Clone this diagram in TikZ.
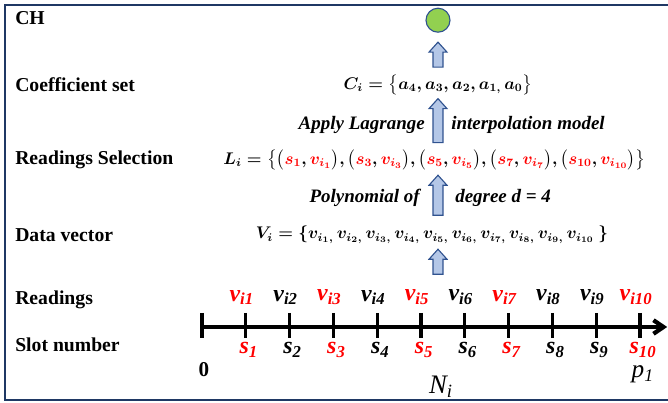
\documentclass[tikz,border=0pt]{standalone}
\usepackage{fontspec}
\setmainfont{Liberation Serif}
\usepackage{xcolor}
\usepackage{tikz}
\usepackage{amsmath, amssymb}
\usetikzlibrary{shapes.arrows, arrows.meta}

\begin{document}
\begin{tikzpicture}[every node/.style={inner sep=0pt, font=\fontsize{14}{16}\selectfont},
    rowlabel/.style={anchor=west, font=\fontsize{14}{16}\selectfont\bfseries},
    formula/.style={font=\fontsize{12}{14}\selectfont\boldmath},
    caption/.style={font=\fontsize{13.5}{16}\selectfont\bfseries\itshape},
    uparrow/.style={single arrow, draw=bordeA, fill=rellenoA, line width=0.8pt, rotate=90,
        inner sep=0.11cm, single arrow head extend=0.1cm, single arrow tip angle=84},
    axislabel/.style={font=\fontsize{17}{18}\selectfont\bfseries\itshape},
    tick/.style={line width=2.4pt}]

    % Definimos colores
    \definecolor{marcoA}{RGB}{31,56,100}     % Azul marco
    \definecolor{bordeA}{RGB}{47,82,143}     % Azul borde flechas
    \definecolor{rellenoA}{RGB}{180,199,231} % Azul claro relleno
    \definecolor{verdeCH}{RGB}{146,208,80}   % Verde CH
    \definecolor{rojoS}{RGB}{255,0,0}        % Rojo seleccion

    \useasboundingbox (0,0) rectangle (16.7,10.075);

    % Marco
    \draw[marcoA, line width=1.5pt] (16.8,9.95) -- (0.12,9.95) -- (0.12,0.08) -- (16.8,0.08);

    % Etiquetas de filas
    \node[rowlabel] (lch) at (0.375,9.625) {CH};
    \node[rowlabel] (lcoef) at (0.375,7.95) {Coefficient set};
    \node[rowlabel] (lsel) at (0.375,6.075) {Readings Selection};
    \node[rowlabel] (ldat) at (0.375,4.2) {Data vector};
    \node[rowlabel] (lread) at (0.375,2.575) {Readings};
    \node[rowlabel] (lslot) at (0.375,1.45) {Slot number};

    % CH
    \node[circle, draw=bordeA, fill=verdeCH, line width=0.8pt, minimum size=0.6cm] (ch) at (10.95,9.57) {};

    % Flechas y formulas
    \node[uparrow, minimum height=0.625cm] (ar1) at (10.95,8.64) {};
    \node[formula] (coef) at (10.95,7.95) {$C_i = \big\{a_4, a_3, a_2, a_{1,}\, a_0\big\}$};

    \node[uparrow, minimum height=1.1cm] (ar2) at (10.95,6.99) {};
    \node[caption, anchor=east] (lag1) at (10.625,6.95) {Apply Lagrange};
    \node[caption, anchor=west] (lag2) at (11.275,6.95) {interpolation model};

    \node[formula] (lsel) at (10.86,6.075) {$L_i = \big\{\big(\textcolor{rojoS}{s_1}, \textcolor{rojoS}{v_{i_1}}\big), \big(\textcolor{rojoS}{s_3}, \textcolor{rojoS}{v_{i_3}}\big), \big(\textcolor{rojoS}{s_5}, \textcolor{rojoS}{v_{i_5}}\big), \big(\textcolor{rojoS}{s_7}, \textcolor{rojoS}{v_{i_7}}\big), \big(\textcolor{rojoS}{s_{10}}, \textcolor{rojoS}{v_{i_{10}}}\big)\big\}$};

    \node[uparrow, minimum height=1.0cm] (ar3) at (10.95,5.125) {};
    \node[caption, anchor=east] (pol1) at (10.5,5.125) {Polynomial of};
    \node[caption, anchor=west] (pol2) at (11.375,5.125) {degree d = 4};

    \node[formula] (vdat) at (10.8,4.2) {$V_i = \{v_{i_1,}\, v_{i_2,}\, v_{i_3,}\, v_{i_4,}\, v_{i_5,}\, v_{i_6,}\, v_{i_7,}\, v_{i_8,}\, v_{i_9,}\, v_{i_{10}}\ \}$};

    \node[uparrow, minimum height=0.625cm] (ar4) at (10.95,3.4625) {};

    % Eje de slots
    \coordinate (t0) at (5.05,1.9);
    \coordinate (t1) at (6.145,1.9);
    \coordinate (t2) at (7.24,1.9);
    \coordinate (t3) at (8.335,1.9);
    \coordinate (t4) at (9.43,1.9);
    \coordinate (t5) at (10.525,1.9);
    \coordinate (t6) at (11.62,1.9);
    \coordinate (t7) at (12.715,1.9);
    \coordinate (t8) at (13.81,1.9);
    \coordinate (t9) at (14.905,1.9);
    \coordinate (t10) at (16.0,1.9);
    \coordinate (fin) at (16.68,1.9);

    \draw[line width=3pt, -{Straight Barb[length=2.5mm, width=3.4mm]}] (t0) -- (fin);
    \draw[tick] ([yshift=3.5mm]t0) -- ([yshift=-2.65mm]t0);
    \draw[tick] ([yshift=3.5mm]t1) -- ([yshift=-2.65mm]t1);
    \draw[tick] ([yshift=3.5mm]t2) -- ([yshift=-2.65mm]t2);
    \draw[tick] ([yshift=3.5mm]t3) -- ([yshift=-2.65mm]t3);
    \draw[tick] ([yshift=3.5mm]t4) -- ([yshift=-2.65mm]t4);
    \draw[tick] ([yshift=3.5mm]t5) -- ([yshift=-2.65mm]t5);
    \draw[tick] ([yshift=3.5mm]t6) -- ([yshift=-2.65mm]t6);
    \draw[tick] ([yshift=3.5mm]t7) -- ([yshift=-2.65mm]t7);
    \draw[tick] ([yshift=3.5mm]t8) -- ([yshift=-2.65mm]t8);
    \draw[tick] ([yshift=3.5mm]t9) -- ([yshift=-2.65mm]t9);
    \draw[tick] ([yshift=3.5mm]t10) -- ([yshift=-2.65mm]t10);

    % Lecturas
    \node[axislabel, text=rojoS] (v1) at (6.045,2.64) {v\textsubscript{i1}};
    \node[axislabel] (v2) at (7.14,2.64) {v\textsubscript{i2}};
    \node[axislabel, text=rojoS] (v3) at (8.235,2.64) {v\textsubscript{i3}};
    \node[axislabel] (v4) at (9.33,2.64) {v\textsubscript{i4}};
    \node[axislabel, text=rojoS] (v5) at (10.425,2.64) {v\textsubscript{i5}};
    \node[axislabel] (v6) at (11.52,2.64) {v\textsubscript{i6}};
    \node[axislabel, text=rojoS] (v7) at (12.615,2.64) {v\textsubscript{i7}};
    \node[axislabel] (v8) at (13.71,2.64) {v\textsubscript{i8}};
    \node[axislabel] (v9) at (14.805,2.64) {v\textsubscript{i9}};
    \node[axislabel, text=rojoS] (v10) at (15.9,2.64) {v\textsubscript{i10}};

    % Slots
    \node[axislabel, text=rojoS] (s1) at (6.22,1.325) {s\textsubscript{1}};
    \node[axislabel] (s2) at (7.315,1.325) {s\textsubscript{2}};
    \node[axislabel, text=rojoS] (s3) at (8.41,1.325) {s\textsubscript{3}};
    \node[axislabel] (s4) at (9.505,1.325) {s\textsubscript{4}};
    \node[axislabel, text=rojoS] (s5) at (10.6,1.325) {s\textsubscript{5}};
    \node[axislabel] (s6) at (11.695,1.325) {s\textsubscript{6}};
    \node[axislabel, text=rojoS] (s7) at (12.79,1.325) {s\textsubscript{7}};
    \node[axislabel] (s8) at (13.885,1.325) {s\textsubscript{8}};
    \node[axislabel] (s9) at (14.98,1.325) {s\textsubscript{9}};
    \node[axislabel, text=rojoS] (s10) at (16.075,1.325) {s\textsubscript{10}};

    % Extremos del eje
    \node[font=\fontsize{15}{16}\selectfont\bfseries] (cero) at (5.1,0.825) {0};
    \node[font=\fontsize{18}{18}\selectfont\itshape] (pfin) at (16.07,0.72) {p\textsubscript{1}};
    \node[font=\fontsize{19}{19}\selectfont\itshape] (ni) at (11.025,0.4) {N\textsubscript{i}};

\end{tikzpicture}
\end{document}
